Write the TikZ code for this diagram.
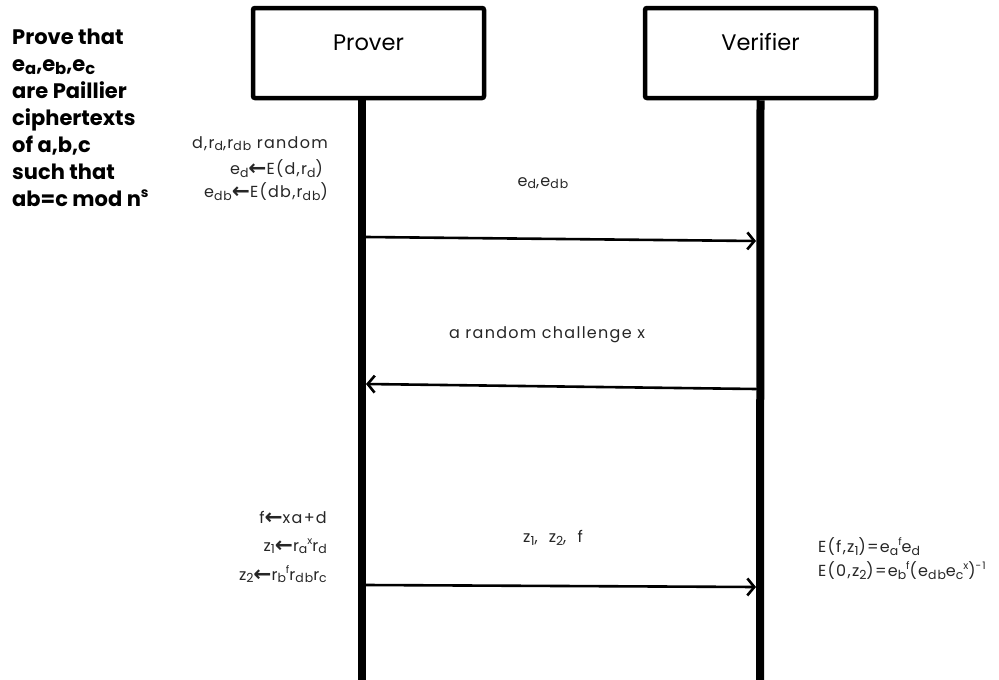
\documentclass[tikz,border=0pt]{standalone}
\usepackage{fontspec}
\usepackage{graphicx}
\setmainfont{Poppins}
\newfontfamily\symf{DejaVu Sans}
\usetikzlibrary{arrows.meta}
\newcommand\lo[1]{\raisebox{-0.25ex}{\scalebox{0.78}{#1}}}
\newcommand\hi[1]{\raisebox{0.8ex}{\scalebox{0.65}{#1}}}
\newcommand\losup[2]{\lo{#1}\hi{#2}}
\newcommand\larr{\raisebox{-0.1ex}{\scalebox{1.35}{\symf\bfseries\char"2190}}}
\tikzset{
  actor/.style={draw, line width=4.5pt, rounded corners=2pt, minimum width=231pt, minimum height=90pt,
    font=\fontsize{22.5}{22}\selectfont, text height=16pt, text depth=22pt, inner sep=0pt},
  life/.style={line width=8pt},
  msg/.style={line width=2.6pt, line cap=round, -{Straight Barb[length=7pt,width=17pt,line width=2.6pt]}},
  txt/.style={font=\fontsize{16}{18}\selectfont\addfontfeatures{LetterSpace=8}, inner sep=0pt, text=black!85},
  claim/.style={font=\fontsize{21}{27}\selectfont\bfseries, inner sep=0pt, align=left, anchor=north west},
}
\begin{document}
\begin{tikzpicture}[x=1pt,y=-1pt]
\useasboundingbox (0,0) rectangle (999,680);
% actors
\node[actor] (P) at (368.5,53) {Prover};
\node[actor] (V) at (760.5,53) {Verifier};
% lifelines
\coordinate (Pt) at (362,98);
\coordinate (Pb) at (362,680);
\coordinate (Vb) at (760,680);
\draw[life] (Pt) -- (Pb);
\draw[life] (V.south) -- (Vb);
% message endpoints
\coordinate (p1) at (366,237);
\coordinate (v1) at (756,241);
\coordinate (v2) at (756,389);
\coordinate (p2) at (366,384);
\coordinate (p3) at (366,585);
\coordinate (v3) at (756,587);
\draw[msg] (p1) -- (v1);
\draw[msg] (v2) -- (p2);
\draw[msg] (p3) -- (v3);
% message labels
\node[txt] (m1) at (543,183) {e\lo{d},e\lo{db}};
\node[txt] (m2) at (547,335) {a random challenge x};
\node[txt] (m3) at (553,538) {z\lo{1}, \ z\lo{2}, \ f};
% claim
\node[claim] (c) at (12,29) {Prove that\\ e\lo{a},e\lo{b},e\lo{c}\\ are Paillier\\ ciphertexts\\ of a,b,c\\ such that\\ ab=c mod n\hi{s}};
% prover computations
\node[txt, anchor=east] (t1) at (328,144) {d,r\lo{d},r\lo{db} random};
\node[txt, anchor=east] (t2) at (323,169) {e\lo{d}\larr E(d,r\lo{d})};
\node[txt, anchor=east] (t3) at (328,192) {e\lo{db}\larr E(db,r\lo{db})};
\node[txt, anchor=east] (b1) at (327,518) {f\larr xa+d};
\node[txt, anchor=east] (b2) at (327,546) {z\lo{1}\larr r\losup{a}{x}r\lo{d}};
\node[txt, anchor=east] (b3) at (327,574) {z\lo{2}\larr r\losup{b}{f}r\lo{db}r\lo{c}};
% verifier checks
\node[txt, anchor=west] (r1) at (818,547) {E(f,z\lo{1})=e\losup{a}{f}e\lo{d}};
\node[txt, anchor=west] (r2) at (818,571) {E(0,z\lo{2})=e\losup{b}{f}(e\lo{db}e\losup{c}{x})\hi{-1}};
\end{tikzpicture}
\end{document}
